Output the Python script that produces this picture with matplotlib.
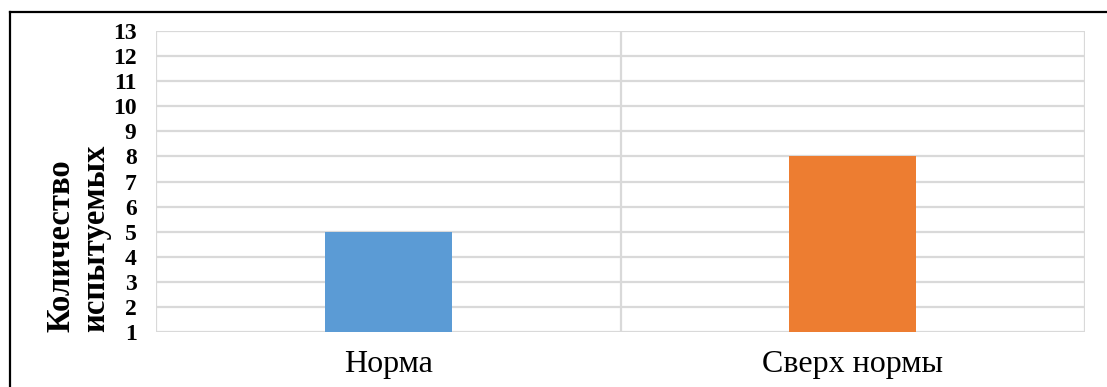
import matplotlib.pyplot as plt
from matplotlib.lines import Line2D

# данные
categories = ['Норма', 'Сверх нормы']
values = [5, 8]
bar_colors = ['#5B9BD5', '#ED7D31']
y_ticks = list(range(1, 14))

plt.rcParams['font.family'] = ['Liberation Serif', 'DejaVu Serif']

fig = plt.figure(figsize=(11.07, 3.87), dpi=100)
ax = fig.add_axes([156 / 1107, 55 / 387, 929 / 1107, 301 / 387])

x = list(range(len(categories)))
ax.bar(x, [v - 1 for v in values], bottom=1, width=0.273, color=bar_colors, zorder=3)

ax.set_xlim(-0.5, 1.5)
ax.set_ylim(1, 13)
ax.set_yticks(y_ticks)
ax.set_yticklabels([str(t) for t in y_ticks], fontsize=17, fontweight='bold')
ax.set_xticks(x)
ax.set_xticklabels(categories, fontsize=23)
ax.tick_params(axis='y', length=0, pad=14)
ax.tick_params(axis='x', length=0, pad=13)

# сетка
grid_color = '#D9D9D9'
for t in y_ticks:
    ax.axhline(t, color=grid_color, lw=1.6, zorder=1)
for xv in [-0.5, 0.5, 1.5]:
    ax.axvline(xv, color=grid_color, lw=1.6, zorder=1)
for s in ax.spines.values():
    s.set_visible(False)

fig.text(0.0705, 55 / 387, 'Количество\nиспытуемых', rotation=90, ha='center',
         va='bottom', multialignment='left', fontsize=23.5, fontweight='bold',
         linespacing=1.15)

# рамка
fig.add_artist(Line2D([9.5 / 1107, 9.5 / 1107], [0, 1 - 11.5 / 387], color='black', lw=1.6))
fig.add_artist(Line2D([9.5 / 1107, 1], [1 - 11.5 / 387, 1 - 11.5 / 387], color='black', lw=1.6))

fig.savefig('out.png', dpi=100)
